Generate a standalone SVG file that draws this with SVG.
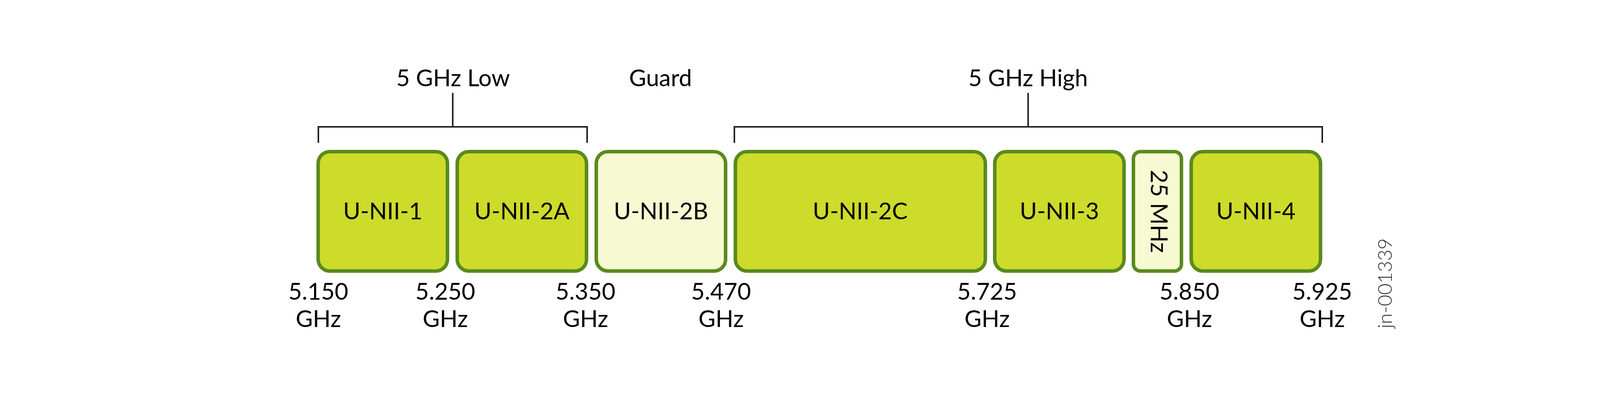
<svg xmlns="http://www.w3.org/2000/svg" width="4200" height="1025" viewBox="0 0 4200 1025">
<style>
text{font-family:Lato,"Open Sans","Liberation Sans",sans-serif;font-size:60px;fill:#000;text-anchor:middle}
.band{fill:#cddb2b;stroke:#5a8a1e;stroke-width:9}
.guard{fill:#f6f9d2;stroke:#5a8a1e;stroke-width:9}
.br{fill:none;stroke:#222;stroke-width:4}
.id{font-size:50px;font-weight:300;fill:#333}
</style>
<rect width="4200" height="1025" fill="#fff"/>
<g id="connectors">
<path class="br" d="M815,366 V325 H1503 V366 M1159,325 V238"/>
<path class="br" d="M1880,366 V325 H3385 V366 M2632,325 V238"/>
</g>
<g id="group-low"><text x="1160" y="221">5 GHz Low</text></g>
<g id="group-guard"><text x="1691" y="221">Guard</text></g>
<g id="group-high"><text x="2632" y="221">5 GHz High</text></g>
<g id="unii-1"><rect class="band" x="814.5" y="388.5" width="331" height="306" rx="30"/><text x="980" y="562">U-NII-1</text></g>
<g id="unii-2a"><rect class="band" x="1170.5" y="388.5" width="331" height="306" rx="30"/><text x="1336" y="562">U-NII-2A</text></g>
<g id="unii-2b"><rect class="guard" x="1526.5" y="388.5" width="331" height="306" rx="30"/><text x="1692" y="562">U-NII-2B</text></g>
<g id="unii-2c"><rect class="band" x="1882.5" y="388.5" width="640" height="306" rx="30"/><text x="2202" y="562">U-NII-2C</text></g>
<g id="unii-3"><rect class="band" x="2546.5" y="388.5" width="331" height="306" rx="30"/><text x="2712" y="562">U-NII-3</text></g>
<g id="mhz25"><rect class="guard" x="2901.5" y="388.5" width="123" height="306" rx="18"/><text transform="translate(2946,541.5) rotate(90)" x="0" y="0">25 MHz</text></g>
<g id="unii-4"><rect class="band" x="3049.5" y="388.5" width="331" height="306" rx="30"/><text x="3215" y="562">U-NII-4</text></g>
<g id="freq-labels">
<text x="815" y="768">5.150</text><text x="815" y="838">GHz</text>
<text x="1140" y="768">5.250</text><text x="1140" y="838">GHz</text>
<text x="1499" y="768">5.350</text><text x="1499" y="838">GHz</text>
<text x="1846" y="768">5.470</text><text x="1846" y="838">GHz</text>
<text x="2527" y="768">5.725</text><text x="2527" y="838">GHz</text>
<text x="3045" y="768">5.850</text><text x="3045" y="838">GHz</text>
<text x="3385" y="768">5.925</text><text x="3385" y="838">GHz</text>
</g>
<text class="id" transform="translate(3563,726) rotate(-90)">jn-001339</text>
</svg>
